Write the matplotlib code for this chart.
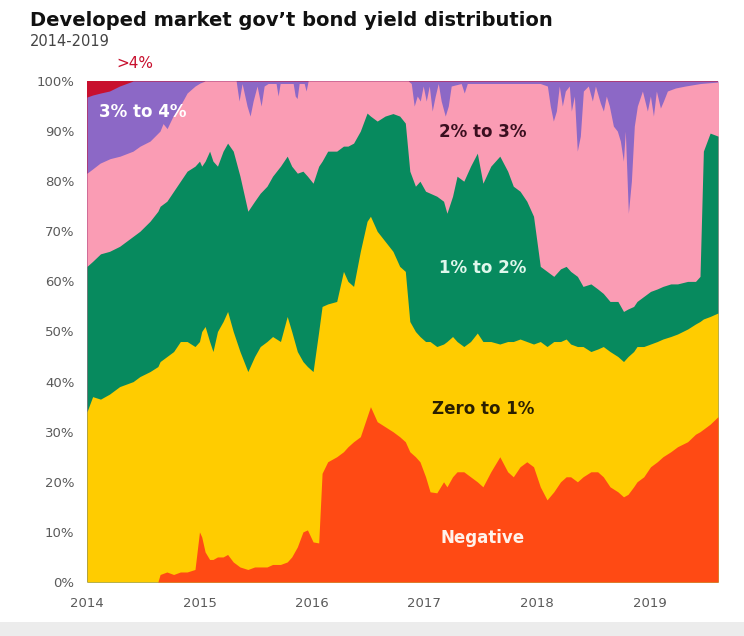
import numpy as np
import matplotlib
matplotlib.use("Agg")
import matplotlib.pyplot as plt
from matplotlib.patches import Rectangle

# ---- data: decimal years and cumulative share tops (%) ----
dates = [2014.00, 2014.05, 2014.12, 2014.20, 2014.29, 2014.41, 2014.47, 2014.56, 2014.63, 2014.65,
         2014.71, 2014.77, 2014.83, 2014.89, 2014.96, 2015.00, 2015.02, 2015.05, 2015.09, 2015.12,
         2015.16, 2015.21, 2015.25, 2015.30, 2015.36, 2015.43, 2015.49, 2015.54, 2015.60, 2015.65,
         2015.72, 2015.78, 2015.82, 2015.87, 2015.92, 2015.96, 2016.01, 2016.06, 2016.09, 2016.14,
         2016.22, 2016.28, 2016.32, 2016.37, 2016.43, 2016.49, 2016.52, 2016.58, 2016.65, 2016.72,
         2016.78, 2016.83, 2016.87, 2016.92, 2016.96, 2017.01, 2017.05, 2017.11, 2017.17, 2017.20,
         2017.25, 2017.29, 2017.35, 2017.41, 2017.47, 2017.52, 2017.59, 2017.67, 2017.74, 2017.79,
         2017.85, 2017.91, 2017.97, 2018.03, 2018.09, 2018.15, 2018.21, 2018.26, 2018.30, 2018.36,
         2018.41, 2018.48, 2018.54, 2018.59, 2018.65, 2018.72, 2018.77, 2018.81, 2018.86, 2018.89,
         2018.95, 2019.01, 2019.07, 2019.12, 2019.19, 2019.25, 2019.34, 2019.41, 2019.45, 2019.48,
         2019.54, 2019.61]

negative_top = [0, 0, 0, 0, 0, 0, 0, 0, 0, 1.5,
                2, 1.5, 2, 2, 2.5, 10, 9, 6, 4.5, 4.5,
                5, 5, 5.5, 4, 3, 2.5, 3, 3, 3, 3.5,
                3.5, 4, 5, 7, 10, 10.4, 8, 7.8, 21.7, 24,
                25, 26, 27, 28, 29, 33, 35, 32, 31, 30,
                29, 28, 26, 25, 24, 21, 18, 17.8, 20, 19,
                21, 22, 22, 21, 20, 19, 22, 25, 22, 21,
                23, 24, 23, 19, 16.4, 18, 20, 21, 21, 20,
                21, 22, 22, 21, 19, 18, 17, 17.5, 19, 20,
                21, 23, 24, 25, 26, 27, 28, 29.5, 30, 30.5,
                31.5, 33]

zero_to_1_top = [34, 37, 36.5, 37.5, 39, 40, 41, 42, 43, 44,
                 45, 46, 48, 48, 47, 48, 50, 51, 48, 46,
                 50, 52, 54, 50, 46, 42, 45, 47, 48, 49,
                 48, 53, 50, 46, 44, 43, 42, 50, 55, 55.5,
                 56, 62, 60, 59, 66, 72, 73, 70, 68, 66,
                 63, 62, 52, 50, 49, 48, 48, 47, 47.5, 48,
                 49, 48, 47, 48, 49.7, 48, 48, 47.5, 48, 48,
                 48.5, 48, 47.5, 48, 47, 48, 48, 48.5, 47.5, 47,
                 47, 46, 46.5, 47, 46, 45, 44, 45, 46, 47,
                 47, 47.5, 48, 48.5, 49, 49.5, 50.5, 51.5, 52, 52.5,
                 53, 53.7]

one_to_2_top = [63, 64, 65.5, 66, 67, 69, 70, 72, 74, 75,
                76, 78, 80, 82, 83, 84, 83, 84, 86, 84,
                83, 86, 87.6, 86, 81, 74, 76, 77.6, 79, 81,
                83, 85, 83, 81.6, 82, 81, 79.6, 83, 84, 86,
                86, 87, 87, 87.6, 90, 93.6, 93, 92, 93, 93.5,
                93, 91.6, 82, 79, 80, 78, 77.6, 77, 76, 73.6,
                77, 81, 80, 83, 85.6, 79.6, 83, 85, 82, 79,
                78, 76, 73, 63, 62, 61, 62.5, 63, 62, 61,
                59, 59.5, 58.5, 57.6, 56, 56, 54, 54.5, 55, 56,
                57, 58, 58.5, 59, 59.5, 59.5, 60, 60, 61, 86,
                89.6, 89]

dates_2_to_3 = [2014.000, 2014.053, 2014.116, 2014.205, 2014.294, 2014.409, 2014.472, 2014.560,
                2014.649, 2014.676, 2014.712, 2014.765, 2014.827, 2014.890, 2014.961, 2015.005,
                2015.050, 2015.326, 2015.352, 2015.379, 2015.423, 2015.450, 2015.477, 2015.512,
                2015.548, 2015.575, 2015.610, 2015.681, 2015.699, 2015.717, 2015.833, 2015.851,
                2015.868, 2015.886, 2015.931, 2015.948, 2015.966, 2016.856, 2016.883, 2016.909,
                2016.936, 2016.963, 2016.989, 2017.016, 2017.043, 2017.069, 2017.096, 2017.123,
                2017.149, 2017.185, 2017.212, 2017.238, 2017.327, 2017.354, 2017.381, 2018.030,
                2018.093, 2018.119, 2018.146, 2018.173, 2018.199, 2018.226, 2018.253, 2018.288,
                2018.306, 2018.333, 2018.359, 2018.386, 2018.413, 2018.457, 2018.493, 2018.520,
                2018.564, 2018.591, 2018.617, 2018.644, 2018.680, 2018.715, 2018.742, 2018.769,
                2018.786, 2018.813, 2018.840, 2018.866, 2018.893, 2018.938, 2018.982, 2019.009,
                2019.036, 2019.062, 2019.098, 2019.125, 2019.160, 2019.231, 2019.320, 2019.454,
                2019.614]
two_to_3_top = [81.6, 82.5, 83.6, 84.5, 85, 86, 87, 88,
                90, 91.5, 90.5, 93, 95, 97.6, 99, 99.6,
                100, 100, 96, 99.5, 95, 93, 96, 99,
                95, 99, 99.5, 99.5, 97, 99.5, 99.5, 97,
                96.5, 99.5, 99.5, 98, 100, 100, 99.5, 95,
                97, 96, 99, 96, 99, 94, 97, 99.5,
                96, 93, 95, 99, 99.5, 97.6, 99.5, 99.5,
                99, 95, 92, 94, 99, 95, 98, 99,
                94, 97, 86, 89, 98, 99, 96, 99,
                95.6, 94, 97, 95, 91, 90, 88, 84,
                90, 73.6, 80, 91, 95, 98, 94, 97,
                93, 98, 94.6, 96, 98, 98.6, 99, 99.5,
                99.8]

dates_3_to_4 = [2014.00, 2014.05, 2014.12, 2014.20, 2014.29, 2014.41, 2019.61]
three_to_4_top = [96.8, 97.2, 97.6, 98, 99, 100, 100]

above_4_top = [100] * len(dates)

series_names = ["Negative", "Zero to 1%", "1% to 2%", "2% to 3%", "3% to 4%", ">4%"]
colors = ["#FF4A14", "#FFCC00", "#078A5E", "#FA9CB4", "#8C68C6", "#C8102E"]
year_ticks = [2014, 2015, 2016, 2017, 2018, 2019]
pct_ticks = [0, 10, 20, 30, 40, 50, 60, 70, 80, 90, 100]

fig = plt.figure(figsize=(7.44, 6.36), dpi=100, facecolor="white")
fig.patches.append(Rectangle((0, 0), 1, 14 / 636, transform=fig.transFigure,
                             facecolor="#ececec", edgecolor="none", zorder=-1))

ax = fig.add_axes([87 / 744, 1 - 582 / 636, (718 - 87) / 744, (582 - 81) / 636])

# layers painted from the top band downwards; each layer covers 0..its cumulative top
layers = [
    (dates, above_4_top, colors[5]),
    (dates_3_to_4, three_to_4_top, colors[4]),
    (dates_2_to_3, two_to_3_top, colors[3]),
    (dates, one_to_2_top, colors[2]),
    (dates, zero_to_1_top, colors[1]),
    (dates, negative_top, colors[0]),
]
for i, (d, top, c) in enumerate(layers):
    ax.fill_between(d, 0, top, color=c, linewidth=0, zorder=i + 1)

ax.set_xlim(2014.0, 2019.61)
ax.set_ylim(0, 100)
for s in ax.spines.values():
    s.set_visible(False)
ax.set_xticks(year_ticks)
ax.set_xticklabels([str(y) for y in year_ticks])
ax.set_yticks(pct_ticks)
ax.set_yticklabels([f"{p}%" for p in pct_ticks])
ax.tick_params(axis="both", length=0, labelsize=9.5, labelcolor="#5a5a5a")
ax.tick_params(axis="y", pad=9)
ax.tick_params(axis="x", pad=11)

# in-chart labels
ax.text(2014.43, 102.0, ">4%", color="#C8102E", fontsize=11,
        ha="center", va="bottom", zorder=10)
ax.text(2014.50, 93.8, "3% to 4%", color="white", fontsize=12, fontweight="bold",
        ha="center", va="center", zorder=10)
ax.text(2017.52, 89.9, "2% to 3%", color="#3a0f1f", fontsize=12, fontweight="bold",
        ha="center", va="center", zorder=10)
ax.text(2017.52, 62.7, "1% to 2%", color="#dff7ec", fontsize=12, fontweight="bold",
        ha="center", va="center", zorder=10)
ax.text(2017.52, 34.5, "Zero to 1%", color="#2a1f00", fontsize=12, fontweight="bold",
        ha="center", va="center", zorder=10)
ax.text(2017.52, 8.8, "Negative", color="#fff2ea", fontsize=12, fontweight="bold",
        ha="center", va="center", zorder=10)

fig.text(30 / 744, 1 - 20 / 636, "Developed market gov\u2019t bond yield distribution",
         fontsize=14, fontweight="bold", color="#111111", ha="left", va="center")
fig.text(30 / 744, 1 - 41 / 636, "2014-2019", fontsize=10.5, color="#444444",
         ha="left", va="center")

fig.savefig("out.png", dpi=100, facecolor=fig.get_facecolor())
